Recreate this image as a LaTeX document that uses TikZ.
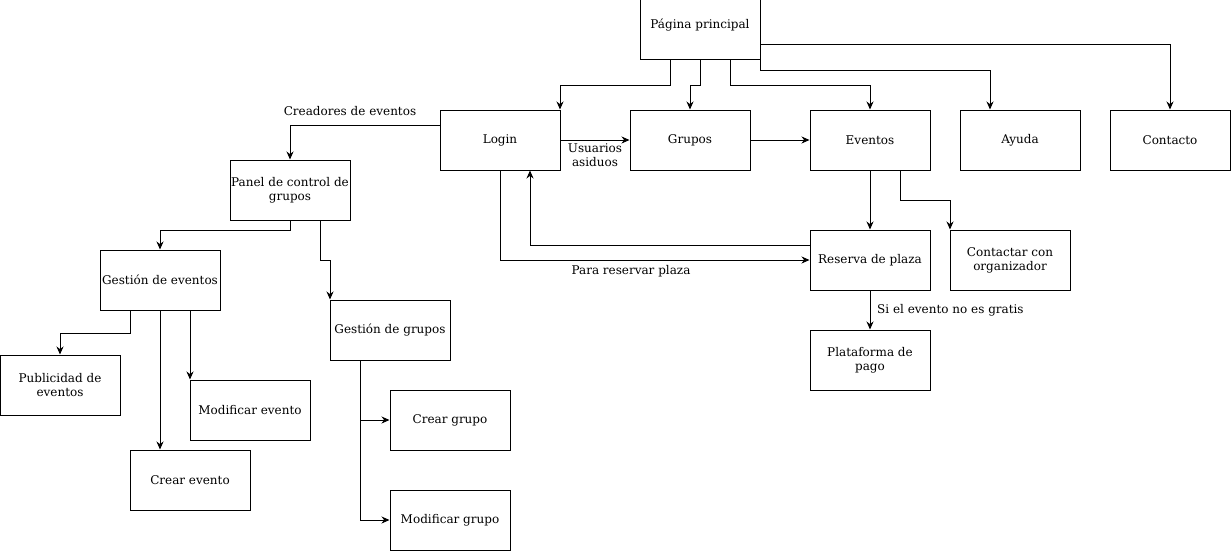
\documentclass[tikz,border=0pt]{standalone}
\usepackage{fontspec}
\setmainfont{DejaVu Serif}
\usetikzlibrary{arrows.meta}
\begin{document}
\begin{tikzpicture}[x=1pt,y=-1pt,
  box/.style={draw=black,line width=1pt,minimum width=120pt,minimum height=60pt,
    inner sep=0pt,align=center,font=\fontsize{12}{14}\selectfont},
  lbl/.style={inner sep=1pt,align=center,font=\fontsize{12}{14}\selectfont},
  arr/.style={line width=1pt,-{Stealth[length=8pt,width=7pt]}},
  ln/.style={line width=1pt}]
\useasboundingbox (0,0) rectangle (1231,551);
% top level
\node[box] (pp) at (700,30) {\raisebox{13pt}{Página principal}};
\node[box] (login) at (500,140) {Login};
\node[box] (grupos) at (690,140) {Grupos};
\node[box] (eventos) at (870,140) {Eventos};
\node[box] (ayuda) at (1020,140) {Ayuda};
\node[box] (contacto) at (1170,140) {Contacto};
% event side
\node[box] (reserva) at (870,260) {Reserva de plaza};
\node[box] (contactar) at (1010,260) {Contactar con\\organizador};
\node[box] (pago) at (870,360) {Plataforma de\\pago};
% management side
\node[box] (panel) at (290,190) {Panel de control de\\grupos};
\node[box] (gevt) at (160,280) {Gestión de eventos};
\node[box] (ggr) at (390,330) {Gestión de grupos};
\node[box] (pub) at (60,385) {Publicidad de\\eventos};
\node[box] (modevt) at (250,410) {Modificar evento};
\node[box] (crevt) at (190,480) {Crear evento};
\node[box] (crgr) at (450,420) {Crear grupo};
\node[box] (modgr) at (450,520) {Modificar grupo};
% from the main page
\draw[arr] ([xshift=-30pt]pp.south) -- ++(0,25) -| ([xshift=60pt]login.north);
\draw[arr] (pp.south) -- ++(0,25) -| (grupos.north);
\draw[arr] ([xshift=30pt]pp.south) -- ++(0,25) -| (eventos.north);
\draw[arr] ([xshift=60pt]pp.south) -- ++(0,10) -| ([xshift=-30pt]ayuda.north);
\draw[arr] ([yshift=-15pt]pp.east) -| (contacto.north);
% login flows
\draw[arr] (login.east) -- (grupos.west);
\node[lbl] (lasid) at (595,155) {Usuarios\\asiduos};
\draw[arr] (grupos.east) -- (eventos.west);
\draw[arr] ([yshift=15pt]login.west) -| (panel.north);
\node[lbl] (lcre) at (350,111) {Creadores de eventos};
\draw[arr] (login.south) |- (reserva.west);
\node[lbl] (lres) at (631,271) {Para reservar plaza};
\draw[arr] ([yshift=15pt]reserva.west) -| ([xshift=30pt]login.south);
% events
\draw[arr] (eventos.south) -- (reserva.north);
\draw[arr] ([xshift=30pt]eventos.south) -- ++(0,30) -| ([xshift=-60pt]contactar.north);
\draw[arr] (reserva.south) -- (pago.north);
\node[lbl,anchor=west] (lgratis) at (876,310) {Si el evento no es gratis};
% control panel
\draw[arr] (panel.south) -- ++(0,10) -| (gevt.north);
\draw[arr] ([xshift=30pt]panel.south) -- ++(0,40) -| ([xshift=-60pt]ggr.north);
\draw[arr] ([xshift=-30pt]gevt.south) -- ++(0,23) -| (pub.north);
\draw[arr] (gevt.south) -- ([xshift=-30pt]crevt.north);
\draw[arr] ([xshift=30pt]gevt.south) -- ([xshift=-60pt]modevt.north);
\draw[arr] ([xshift=-30pt]ggr.south) |- (crgr.west);
\draw[arr] ([xshift=-30pt]ggr.south) |- (modgr.west);
\end{tikzpicture}
\end{document}
